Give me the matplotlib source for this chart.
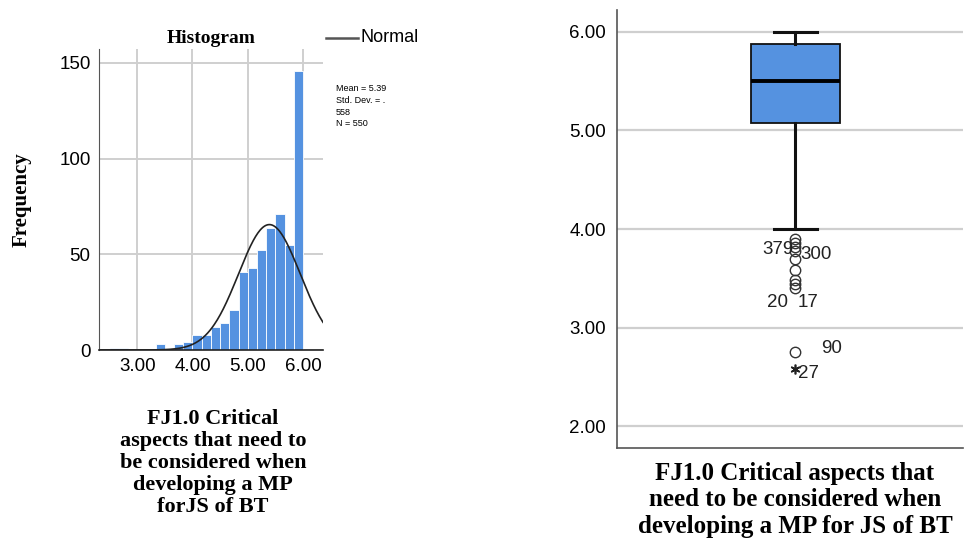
# SPSS-style histogram with normal curve + boxplot for FJ1.0
import numpy as np
import matplotlib
matplotlib.use('Agg')
import matplotlib.pyplot as plt

# ---- data ----
bin_width = 1 / 6
bin_lefts = [2.5, 2.6667, 3.3333, 3.6667, 3.8333,
             4.0, 4.1667, 4.3333, 4.5, 4.6667, 4.8333,
             5.0, 5.1667, 5.3333, 5.5, 5.6667, 5.8333]
counts = [1, 1, 3, 3, 4,
          8, 8, 12, 14, 21, 41,
          43, 52, 64, 71, 55, 146]
mean_val = 5.39
std_val = 0.558
n_val = 550
hist_yticks = [0, 50, 100, 150]
hist_xticks = [3.0, 4.0, 5.0, 6.0]

# boxplot summary
q1, median, q3 = 5.08, 5.50, 5.88
whisker_low, whisker_high = 4.00, 6.00
outliers = [3.90, 3.86, 3.82, 3.78, 3.70, 3.58, 3.48, 3.44, 3.40, 2.75]
extremes = [2.58]
outlier_labels = ['379', '300', '20', '17', '90', '27']
outlier_label_x = [-0.01, 0.03, -0.10, 0.075, 0.21, 0.075]
outlier_label_y = [3.79, 3.74, 3.25, 3.25, 2.79, 2.54]
outlier_label_ha = ['right', 'left', 'center', 'center', 'center', 'center']
box_yticks = [2.0, 3.0, 4.0, 5.0, 6.0]

bar_color = '#5592e0'
grid_color = '#cfcfcf'
serif = 'Liberation Serif'
sans = 'Liberation Sans'

fig = plt.figure(figsize=(9.64, 5.44), dpi=100)

# ---- histogram ----
ax1 = fig.add_axes([0.1027, 0.3566, 0.2324, 0.5534])
ax1.set_axisbelow(True)
ax1.grid(True, color=grid_color, linewidth=1.4)
ax1.bar(bin_lefts, counts, width=bin_width, align='edge', color=bar_color,
        edgecolor='white', linewidth=0.6)

ax1.set_xlim(2.31, 6.36)
ax1.set_ylim(0, 157.3)
xs = np.linspace(2.31, 6.36, 300)
pdf = n_val * bin_width / (std_val * np.sqrt(2 * np.pi)) * np.exp(-0.5 * ((xs - mean_val) / std_val) ** 2)
ax1.plot(xs, pdf, color='#222222', linewidth=1.2)

ax1.set_xticks(hist_xticks)
ax1.set_xticklabels(['%.2f' % v for v in hist_xticks])
ax1.set_yticks(hist_yticks)
ax1.tick_params(length=0, labelsize=13.5, pad=6)
for lab in ax1.get_xticklabels() + ax1.get_yticklabels():
    lab.set_family(sans)
for s in ['top', 'right']:
    ax1.spines[s].set_visible(False)
ax1.spines['left'].set_color('#555555')
ax1.spines['bottom'].set_color('#222222')
ax1.spines['bottom'].set_linewidth(1.2)

ax1.set_title('Histogram', family=serif, fontweight='bold', fontsize=14, pad=4)
fig.text(22 / 964, 1 - 200 / 544, 'Frequency', rotation=90, family=serif,
         fontweight='bold', fontsize=15, ha='center', va='center')
fig.text(213 / 964, 1 - 463 / 544,
         'FJ1.0 Critical\naspects that need to\nbe considered when\ndeveloping a MP\nforJS of BT',
         family=serif, fontweight='bold', fontsize=16, ha='center', va='center',
         linespacing=1.13)

# legend + stats
fig.add_artist(plt.Line2D([326 / 964, 358 / 964], [1 - 38 / 544, 1 - 38 / 544],
                          color='#555555', linewidth=1.8))
fig.text(361 / 964, 1 - 38 / 544, 'Normal', family=sans, fontsize=13,
         ha='left', va='center')
fig.text(336 / 964, 1 - 84 / 544,
         'Mean = %.2f\nStd. Dev. = .\n%d\nN = %d' % (mean_val, int(round(std_val * 1000)), n_val),
         family=sans, fontsize=6.5, ha='left', va='top', linespacing=1.4)

# ---- boxplot ----
ax2 = fig.add_axes([0.640, 0.1765, 0.359, 0.805])
ax2.set_axisbelow(True)
ax2.grid(True, axis='y', color=grid_color, linewidth=1.6)
stats = [{'med': median, 'q1': q1, 'q3': q3, 'whislo': whisker_low,
          'whishi': whisker_high, 'fliers': outliers}]
ax2.bxp(stats, positions=[0], widths=0.513, capwidths=0.25, patch_artist=True,
        boxprops=dict(facecolor=bar_color, edgecolor='#111111', linewidth=1.3),
        medianprops=dict(color='black', linewidth=2.8),
        whiskerprops=dict(color='#111111', linewidth=2.2),
        capprops=dict(color='#111111', linewidth=2.2),
        flierprops=dict(marker='o', markerfacecolor='none', markeredgecolor='#333333',
                        markersize=7.5, markeredgewidth=1.0))
ax2.plot([0] * len(extremes), extremes, linestyle='none', marker=(6, 2, 0),
         markeredgecolor='#222222', markersize=7, markeredgewidth=1.2)
for t, x, y, ha in zip(outlier_labels, outlier_label_x, outlier_label_y, outlier_label_ha):
    ax2.text(x, y, t, family=sans, fontsize=13.5, ha=ha, va='center', color='#222222')

ax2.set_xlim(-1.03, 0.97)
ax2.set_ylim(1.78, 6.22)
ax2.set_xticks([])
ax2.set_yticks(box_yticks)
ax2.set_yticklabels(['%.2f' % v for v in box_yticks])
ax2.tick_params(length=0, labelsize=13.5, pad=8)
for lab in ax2.get_yticklabels():
    lab.set_family(sans)
for s in ['top', 'right']:
    ax2.spines[s].set_visible(False)
ax2.spines['left'].set_color('#555555')
ax2.spines['bottom'].set_color('#555555')
ax2.spines['left'].set_linewidth(1.2)
ax2.spines['bottom'].set_linewidth(1.2)

fig.text(795 / 964, 1 - 500 / 544,
         'FJ1.0 Critical aspects that\nneed to be considered when\ndeveloping a MP for JS of BT',
         family=serif, fontweight='bold', fontsize=18, ha='center', va='center',
         linespacing=1.2)

fig.savefig('out.png', dpi=100)
